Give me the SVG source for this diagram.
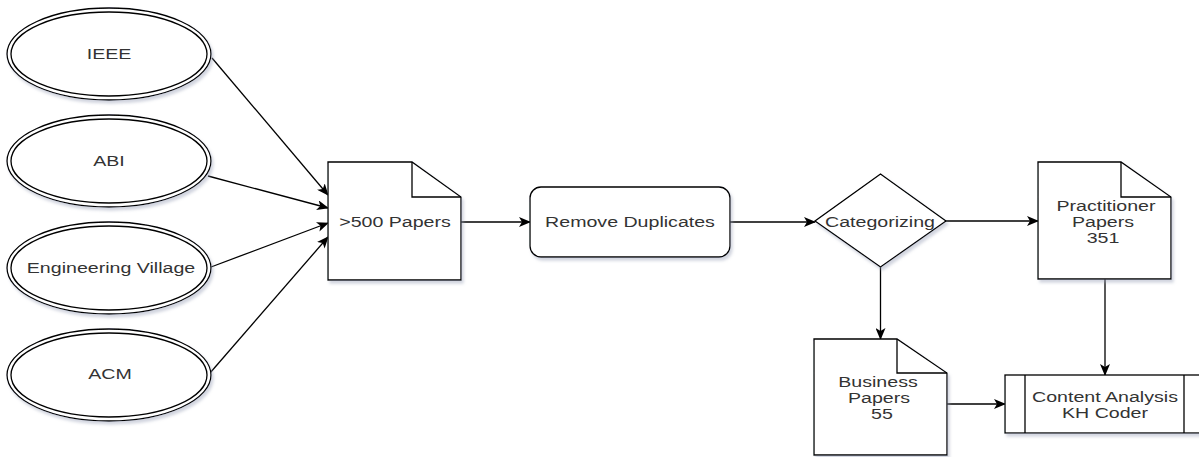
<svg xmlns="http://www.w3.org/2000/svg" width="1199" height="457" viewBox="0 0 1199 457">
  <defs>
    <marker id="arrow" viewBox="0 0 12 10" refX="11" refY="5" markerWidth="12" markerHeight="10" markerUnits="userSpaceOnUse" orient="auto">
      <path d="M0,0 L12,5 L0,10 L3,5 Z" fill="#000"/>
    </marker>
    <filter id="shadow" x="-10%" y="-10%" width="130%" height="130%">
      <feDropShadow dx="2" dy="3" stdDeviation="1.5" flood-color="#9aa0b8" flood-opacity="0.45"/>
    </filter>
  </defs>
  <style>
    .shape { fill: #ffffff; stroke: #000000; stroke-width: 1.3; }
    .inner { fill: none; stroke: #000000; stroke-width: 1.3; }
    .edge { fill: none; stroke: #000000; stroke-width: 1.3; marker-end: url(#arrow); }
    .label { font-family: "Liberation Sans", Arial, sans-serif; font-size: 14px; fill: #333333; text-anchor: middle; }
  </style>
  <rect width="1199" height="457" fill="#ffffff"/>

  <g id="connectors">
    <line class="edge" x1="212" y1="58" x2="328" y2="195"/>
    <line class="edge" x1="208" y1="176" x2="328" y2="208"/>
    <line class="edge" x1="211" y1="267" x2="328" y2="223"/>
    <line class="edge" x1="210" y1="373" x2="328" y2="237"/>
    <line class="edge" x1="461" y1="222" x2="530" y2="222"/>
    <line class="edge" x1="730" y1="222" x2="815" y2="222"/>
    <line class="edge" x1="946" y1="221" x2="1038" y2="221"/>
    <line class="edge" x1="880.5" y1="267" x2="880.5" y2="339"/>
    <line class="edge" x1="1105" y1="279" x2="1105" y2="375"/>
    <line class="edge" x1="947" y1="404" x2="1005" y2="404"/>
  </g>

  <g id="ieee">
    <ellipse class="shape" filter="url(#shadow)" cx="109" cy="54" rx="102" ry="46"/>
    <ellipse class="inner" cx="109" cy="54" rx="98" ry="42"/>
    <text class="label" transform="translate(109,59) scale(1.4,1)">IEEE</text>
  </g>
  <g id="abi">
    <ellipse class="shape" filter="url(#shadow)" cx="109" cy="161" rx="102" ry="46"/>
    <ellipse class="inner" cx="109" cy="161" rx="98" ry="42"/>
    <text class="label" transform="translate(109,166) scale(1.4,1)">ABI</text>
  </g>
  <g id="engineering-village">
    <ellipse class="shape" filter="url(#shadow)" cx="109" cy="268" rx="102" ry="46"/>
    <ellipse class="inner" cx="109" cy="268" rx="98" ry="42"/>
    <text class="label" transform="translate(111,273) scale(1.4,1)">Engineering Village</text>
  </g>
  <g id="acm">
    <ellipse class="shape" filter="url(#shadow)" cx="109" cy="375" rx="102" ry="46"/>
    <ellipse class="inner" cx="109" cy="375" rx="98" ry="42"/>
    <text class="label" transform="translate(110,379) scale(1.4,1)">ACM</text>
  </g>

  <g id="papers500">
    <path class="shape" filter="url(#shadow)" d="M328,162 H412 L461,197 V280 H328 Z"/>
    <path class="inner" d="M412,162 V197 H461"/>
    <text class="label" transform="translate(395,227) scale(1.4,1)">&gt;500 Papers</text>
  </g>

  <g id="remove-duplicates">
    <rect class="shape" filter="url(#shadow)" x="530" y="187" width="200" height="70" rx="11" ry="11"/>
    <text class="label" transform="translate(630,227) scale(1.4,1)">Remove Duplicates</text>
  </g>

  <g id="categorizing">
    <path class="shape" filter="url(#shadow)" d="M880.5,174 L946,221 L880.5,267 L815,221 Z"/>
    <text class="label" transform="translate(880,227) scale(1.4,1)">Categorizing</text>
  </g>

  <g id="practitioner-papers">
    <path class="shape" filter="url(#shadow)" d="M1038,162 H1121 L1171,197 V279 H1038 Z"/>
    <path class="inner" d="M1121,162 V197 H1171"/>
    <text class="label" transform="translate(1106,211) scale(1.4,1)">Practitioner</text>
    <text class="label" transform="translate(1103,227) scale(1.4,1)">Papers</text>
    <text class="label" transform="translate(1103,243) scale(1.4,1)">351</text>
  </g>

  <g id="business-papers">
    <path class="shape" filter="url(#shadow)" d="M814,339 H897 L947,373 V455 H814 Z"/>
    <path class="inner" d="M897,339 V373 H947"/>
    <text class="label" transform="translate(878,387) scale(1.4,1)">Business</text>
    <text class="label" transform="translate(879,403) scale(1.4,1)">Papers</text>
    <text class="label" transform="translate(882,419) scale(1.4,1)">55</text>
  </g>

  <g id="content-analysis">
    <rect class="shape" filter="url(#shadow)" x="1005" y="375" width="200" height="58"/>
    <line class="inner" x1="1025" y1="375" x2="1025" y2="433"/>
    <line class="inner" x1="1184" y1="375" x2="1184" y2="433"/>
    <text class="label" transform="translate(1105,402) scale(1.4,1)">Content Analysis</text>
    <text class="label" transform="translate(1105,418) scale(1.4,1)">KH Coder</text>
  </g>
</svg>
